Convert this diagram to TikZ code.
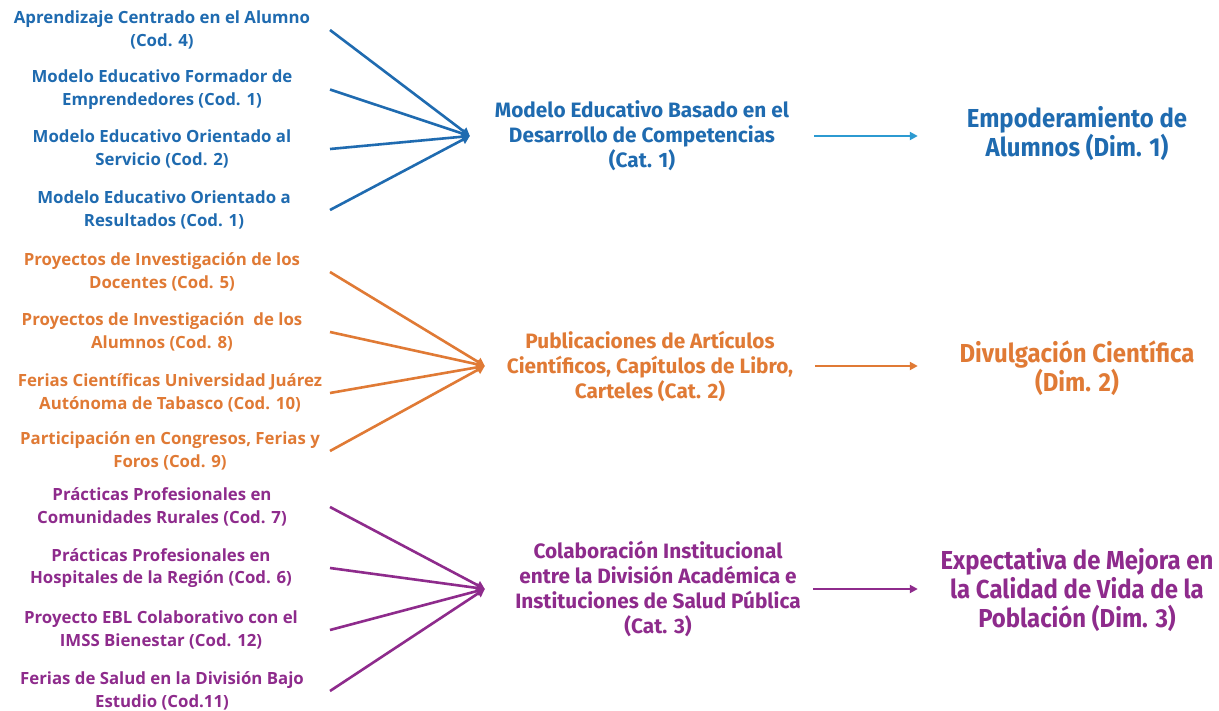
\documentclass[tikz,border=0pt]{standalone}
\usepackage{fontspec}
\usetikzlibrary{arrows.meta}
\newfontfamily\leftfont{Open Sans}
\newfontfamily\catfont{Fira Sans}
\newfontfamily\dimfont[FakeStretch=0.92]{Fira Sans}
\definecolor{cblue}{HTML}{1F6BB0}
\definecolor{cblueA}{HTML}{2C9AD1}
\definecolor{corange}{HTML}{E07A35}
\definecolor{cpurple}{HTML}{8E2B8C}
\begin{document}
\begin{tikzpicture}[x=1pt,y=-1pt,
  code/.style={align=center,inner sep=0pt,font=\leftfont\bfseries\fontsize{16.8}{22.5}\selectfont},
  cat/.style={align=center,inner sep=0pt,font=\catfont\bfseries\fontsize{20.8}{25}\selectfont},
  dim/.style={align=center,inner sep=0pt,font=\dimfont\bfseries\fontsize{26}{29}\selectfont},
  conv/.style={line width=2.6pt,-{Triangle[width=9pt,length=8pt]}},
  fwd/.style={line width=2pt,-{Triangle[width=8pt,length=8pt]}}]
\useasboundingbox[fill=white] (0,0) rectangle (1219,711);
\coordinate (L) at (330,0);
% blue
\node[code,text=cblue] (c1) at (162,30) {Aprendizaje Centrado en el Alumno\\(Cod. 4)};
\node[code,text=cblue] (c2) at (162,89.5) {Modelo Educativo Formador de\\Emprendedores (Cod. 1)};
\node[code,text=cblue] (c3) at (162,149) {Modelo Educativo Orientado al\\Servicio (Cod. 2)};
\node[code,text=cblue] (c4) at (164,210) {Modelo Educativo Orientado a\\Resultados (Cod. 1)};
% orange
\node[code,text=corange] (c5) at (162,272) {Proyectos de Investigación de los\\Docentes (Cod. 5)};
\node[code,text=corange] (c6) at (162,332) {Proyectos de Investigación\ \ de los\\Alumnos (Cod. 8)};
\node[code,text=corange] (c7) at (170,393) {Ferias Científicas Universidad Juárez\\Autónoma de Tabasco (Cod. 10)};
\node[code,text=corange] (c8) at (170,451) {Participación en Congresos, Ferias y\\Foros (Cod. 9)};
% purple
\node[code,text=cpurple] (c9) at (162,507) {Prácticas Profesionales en\\Comunidades Rurales (Cod. 7)};
\node[code,text=cpurple] (c10) at (161,568) {Prácticas Profesionales en\\Hospitales de la Región (Cod. 6)};
\node[code,text=cpurple] (c11) at (161,630) {Proyecto EBL Colaborativo con el\\IMSS Bienestar (Cod. 12)};
\node[code,text=cpurple] (c12) at (162,691) {Ferias de Salud en la División Bajo\\Estudio (Cod.11)};
% categories
\node[cat,text=cblue,minimum width=344pt] (k1) at (642,136) {Modelo Educativo Basado en el\\Desarrollo de Competencias\\(Cat. 1)};
\node[cat,text=corange,minimum width=330pt] (k2) at (650,366) {Publicaciones de Artículos\\Científicos, Capítulos de Libro,\\Carteles (Cat. 2)};
\node[cat,text=cpurple,minimum width=346pt] (k3) at (658,589) {Colaboración Institucional\\entre la División Académica e\\Instituciones de Salud Pública\\(Cat. 3)};
% dimensions
\node[dim,text=cblue,minimum width=318pt] (d1) at (1077,134) {Empoderamiento de\\Alumnos (Dim. 1)};
\node[dim,text=corange,minimum width=318pt] (d2) at (1077,368) {Divulgación Científica\\(Dim. 2)};
\node[dim,text=cpurple,minimum width=318pt] (d3) at (1077,590) {Expectativa de Mejora en\\la Calidad de Vida de la\\Población (Dim. 3)};
% connectors
\foreach \c in {c1,c2,c3,c4} \draw[conv,cblue] (\c -| L) -- (k1.west);
\foreach \c in {c5,c6,c7,c8} \draw[conv,corange] (\c -| L) -- (k2.west);
\foreach \c in {c9,c10,c11,c12} \draw[conv,cpurple] (\c -| L) -- (k3.west);
\draw[fwd,cblueA] (k1.east) -- (d1.west |- k1.east);
\draw[fwd,corange] (k2.east) -- (d2.west |- k2.east);
\draw[fwd,cpurple] ([xshift=-18pt]k3.east) -- (d3.west |- k3.east);
\end{tikzpicture}
\end{document}
